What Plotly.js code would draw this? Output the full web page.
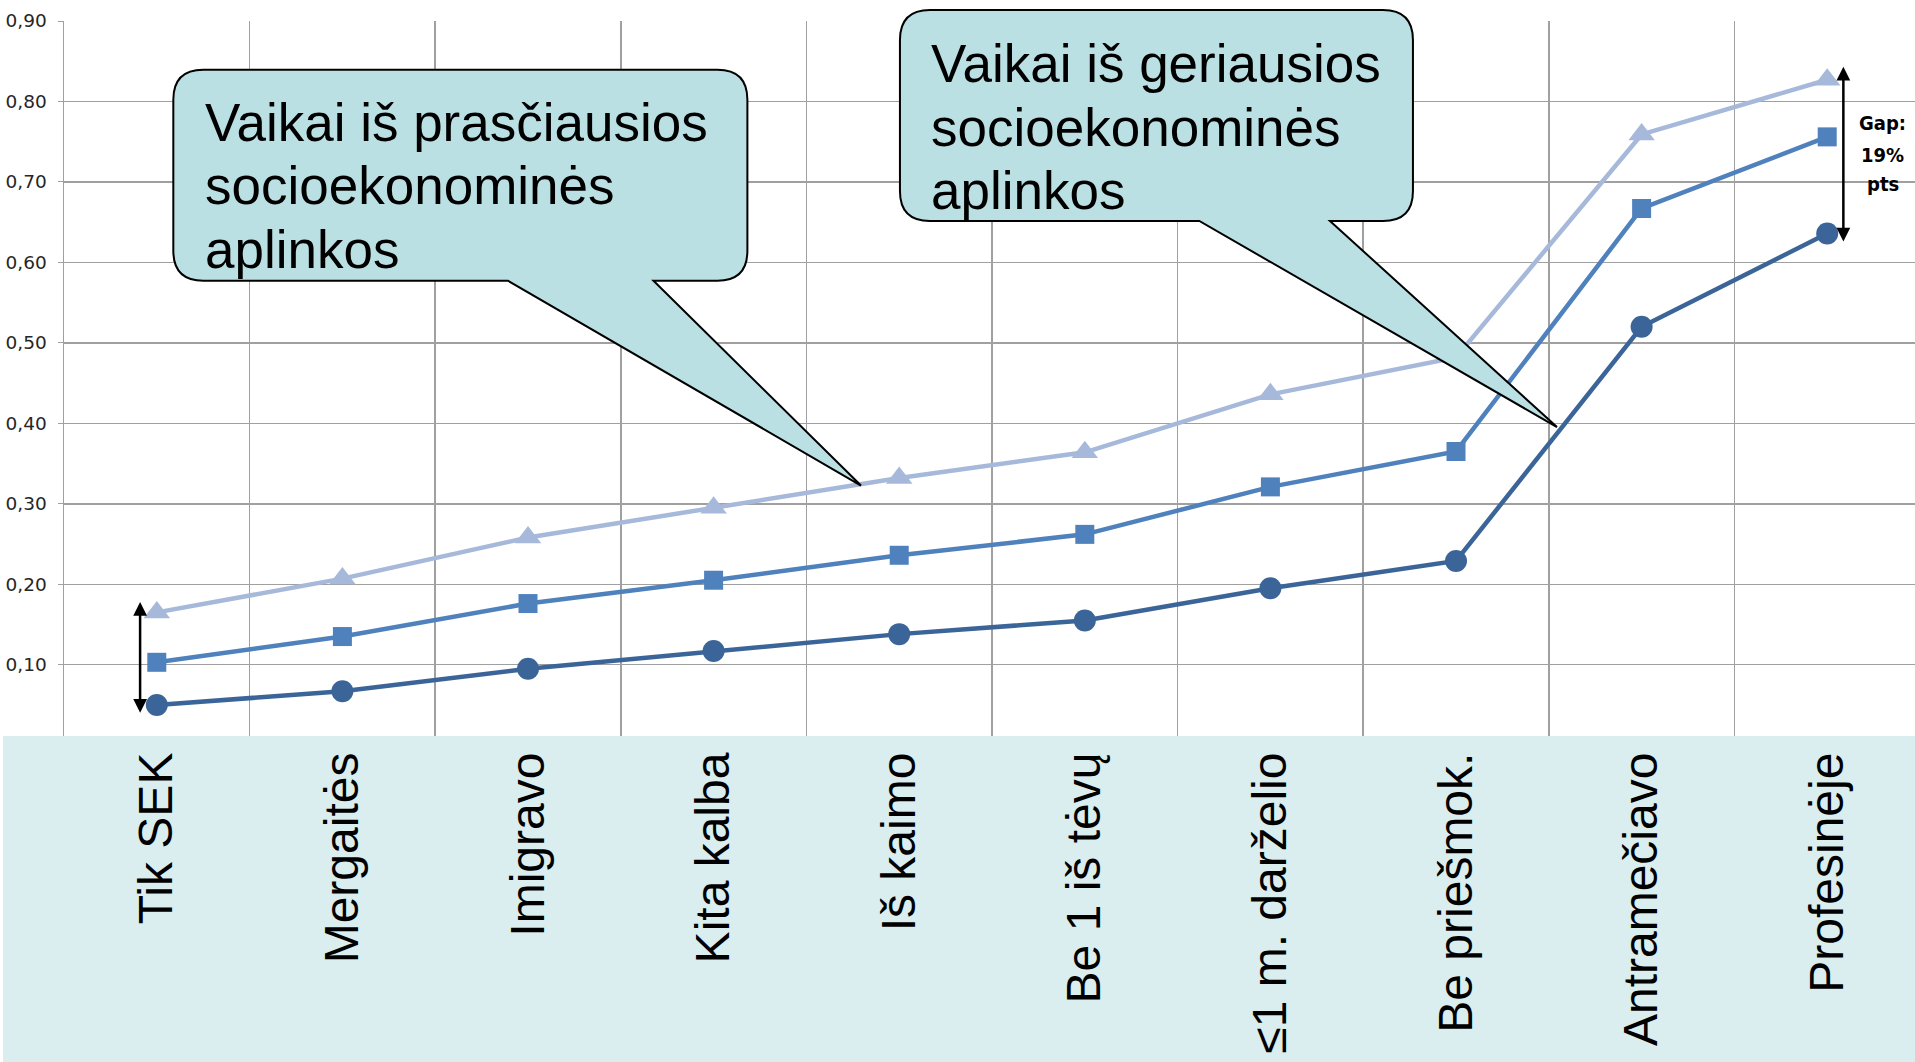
<!DOCTYPE html>
<html>
<head>
<meta charset="utf-8">
<script src="https://cdn.plot.ly/plotly-3.0.1.min.js"></script>
<style>
  html, body { margin: 0; padding: 0; background: #fff; }
  #graph { width: 1915px; height: 1062px; }
</style>
</head>
<body>
<div id="graph"></div>
<script>
// chart values
var categories = ['Tik SEK', 'Mergaitės', 'Imigravo', 'Kita kalba', 'Iš kaimo',
    'Be 1 iš tėvų', '≤1 m. darželio', 'Be priešmok.', 'Antramečiavo', 'Profesinėje'];
var highSes = [0.165, 0.207, 0.258, 0.295, 0.332, 0.364, 0.436, 0.482, 0.759, 0.827];
var midSes = [0.103, 0.135, 0.176, 0.205, 0.236, 0.262, 0.321, 0.365, 0.667, 0.756];
var lowSes = [0.050, 0.067, 0.095, 0.117, 0.138, 0.155, 0.195, 0.229, 0.520, 0.636];
var yTicks = [0.1, 0.2, 0.3, 0.4, 0.5, 0.6, 0.7, 0.8, 0.9];
var gapLines = ['Gap:', '19%', 'pts'];
var leftNote = ['Vaikai iš prasčiausios', 'socioekonominės', 'aplinkos'];
var rightNote = ['Vaikai iš geriausios', 'socioekonominės', 'aplinkos'];

// layout box
var W = 1915, H = 1062;
var L = 64, T = 21, B = 326;
var plotW = W - L, plotH = H - T - B;
var xr = [-0.5, 9.473];
var yr = [0.0114, 0.9];

function dx(x) { return (x - xr[0]) / (xr[1] - xr[0]); }
function dy(y) { return (y - yr[0]) / (yr[1] - yr[0]); }

var xIdx = categories.map(function (c, i) { return i; });
var bounds = [];
for (var b = 0; b <= categories.length; b++) bounds.push(b - 0.5);

function series(vals, color, symbol, size) {
    return {
        x: xIdx,
        y: vals,
        type: 'scatter',
        mode: 'lines+markers',
        line: { color: color, width: 4.5 },
        marker: { color: color, symbol: symbol, size: size },
        showlegend: false,
        hoverinfo: 'skip'
    };
}

var traces = [
    series(highSes, '#A7B9DA', 'triangle-up', 23),
    series(midSes, '#4F81BD', 'square', 19),
    series(lowSes, '#3B6598', 'circle', 22)
];

// speech bubble in data units, converted to paper
function bubble(c) {
    var x0 = dx(c.x0), x1 = dx(c.x1), yT = dy(c.yTop), yB = dy(c.yBot);
    var rx = 30 / plotW, ry = 30 / plotH;
    var tL = dx(c.tailL), tR = dx(c.tailR), tx = dx(c.tipX), ty = dy(c.tipY);
    var p = 'M' + (x0 + rx) + ',' + yT +
        ' L' + (x1 - rx) + ',' + yT +
        ' Q' + x1 + ',' + yT + ' ' + x1 + ',' + (yT - ry) +
        ' L' + x1 + ',' + (yB + ry) +
        ' Q' + x1 + ',' + yB + ' ' + (x1 - rx) + ',' + yB +
        ' L' + tR + ',' + yB +
        ' L' + tx + ',' + ty +
        ' L' + tL + ',' + yB +
        ' L' + (x0 + rx) + ',' + yB +
        ' Q' + x0 + ',' + yB + ' ' + x0 + ',' + (yB + ry) +
        ' L' + x0 + ',' + (yT - ry) +
        ' Q' + x0 + ',' + yT + ' ' + (x0 + rx) + ',' + yT + ' Z';
    return {
        type: 'path', xref: 'paper', yref: 'paper', layer: 'above',
        path: p,
        fillcolor: '#BAE0E4',
        line: { color: '#000', width: 2 }
    };
}

var shapes = [
    // teal band behind category labels
    {
        type: 'rect', xref: 'paper', yref: 'paper', layer: 'below',
        x0: (3 - L) / plotW, x1: 1.01,
        y0: -B / plotH, y1: 0,
        fillcolor: '#DAEDEF', line: { width: 0 }
    },
    bubble({ x0: 0.089, x1: 3.182, yTop: 0.8394, yBot: 0.5772,
             tailL: 1.892, tailR: 2.676, tipX: 3.794, tipY: 0.3227 }),
    bubble({ x0: 4.004, x1: 6.768, yTop: 0.9137, yBot: 0.6515,
             tailL: 5.617, tailR: 6.321, tipX: 7.544, tipY: 0.3953 })
];

var annotations = [];

function noteLines(lines, x, ys) {
    for (var i = 0; i < lines.length; i++) {
        annotations.push({
            x: x, y: ys[i], xref: 'x', yref: 'y',
            text: lines[i], showarrow: false,
            xanchor: 'left', yanchor: 'middle',
            font: { family: 'Liberation Sans, Arial, sans-serif', size: 53, color: '#000' }
        });
    }
}
noteLines(leftNote, 0.25, [0.774, 0.695, 0.616]);
noteLines(rightNote, 4.16, [0.847, 0.768, 0.689]);

// double-headed gap arrows
function gapArrow(x, y0, y1) {
    annotations.push({
        x: x, y: y1, ax: x, ay: y0,
        xref: 'x', yref: 'y', axref: 'x', ayref: 'y',
        text: '', showarrow: true,
        arrowhead: 2, arrowside: 'end+start', arrowsize: 1.1, arrowwidth: 2.5,
        arrowcolor: '#000'
    });
}
gapArrow(-0.09, 0.0385, 0.178);
gapArrow(9.087, 0.624, 0.843);

var gapY = [0.773, 0.734, 0.697];
for (var g = 0; g < gapLines.length; g++) {
    annotations.push({
        x: 9.30, y: gapY[g], xref: 'x', yref: 'y',
        text: '<b>' + gapLines[g] + '</b>', showarrow: false,
        xanchor: 'center', yanchor: 'middle',
        font: { family: 'Liberation Sans Narrow, DejaVu Sans Condensed, Lato, sans-serif', size: 20, color: '#000' }
    });
}

var layout = {
    width: W,
    height: H,
    margin: { l: L, r: 0, t: T, b: B },
    paper_bgcolor: '#fff',
    plot_bgcolor: '#fff',
    separators: ',.',
    showlegend: false,
    xaxis: {
        type: 'linear',
        range: xr,
        tickvals: xIdx,
        ticktext: categories,
        tickangle: -90,
        ticks: '',
        ticklabelstandoff: 6,
        showgrid: false,
        zeroline: false,
        showline: false,
        tickfont: { family: 'Liberation Sans, Arial, sans-serif', size: 48, color: '#000' },
        minor: {
            tickvals: bounds,
            showgrid: true,
            gridcolor: '#A0A0A0',
            gridwidth: 1.5,
            ticks: ''
        }
    },
    yaxis: {
        range: yr,
        tickvals: yTicks,
        tickformat: '.2f',
        ticks: 'outside',
        ticklen: 5,
        tickcolor: '#A0A0A0',
        ticklabelstandoff: 7,
        showgrid: true,
        gridcolor: '#A0A0A0',
        gridwidth: 1.5,
        zeroline: false,
        showline: true,
        linecolor: '#A0A0A0',
        linewidth: 1.5,
        tickfont: { family: 'DejaVu Sans, Verdana, sans-serif', size: 18.5, color: '#262626' }
    },
    shapes: shapes,
    annotations: annotations
};

Plotly.newPlot('graph', traces, layout, { displayModeBar: false, staticPlot: true });
</script>
</body>
</html>
